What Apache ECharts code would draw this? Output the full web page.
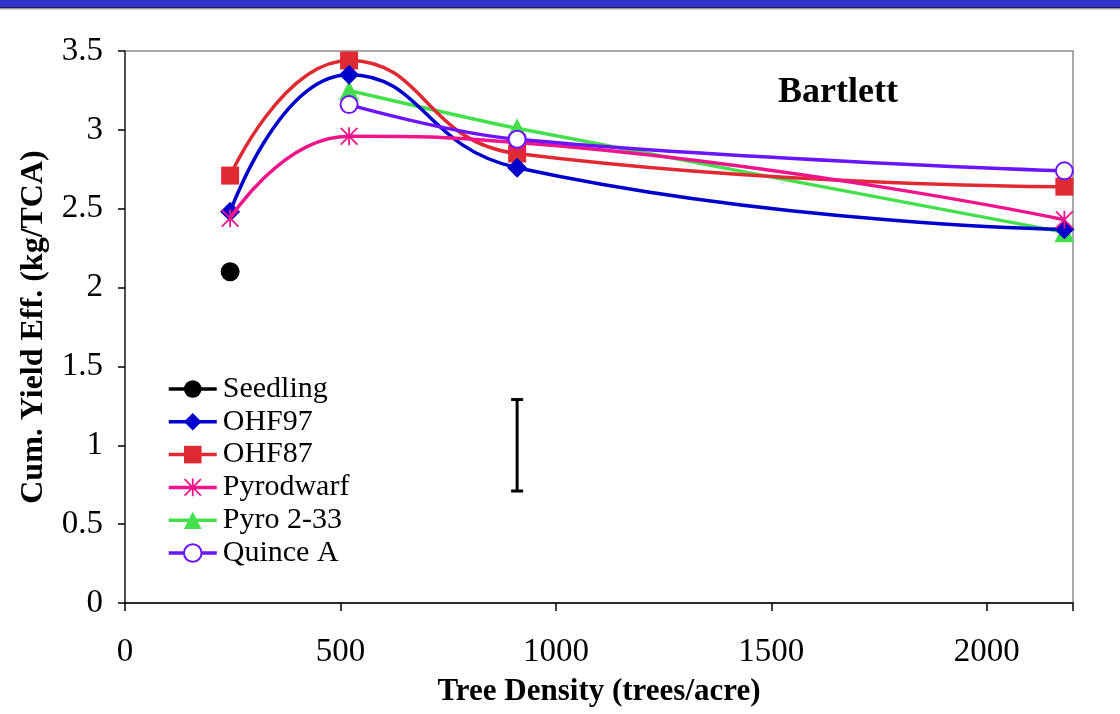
<!DOCTYPE html>
<html>
<head>
<meta charset="utf-8">
<script src="https://cdn.jsdelivr.net/npm/echarts@6/dist/echarts.min.js"></script>
<style>
html,body{margin:0;padding:0;background:#fff;}
#c{width:1120px;height:714px;}
</style>
</head>
<body>
<div id="c"></div>
<script>
var seedlingX = [244];
var seedlingY = [2.10];
var ohf97X = [244, 520, 910, 2180];
var ohf97Y = [2.48, 3.35, 2.76, 2.37];
var ohf87X = [244, 520, 910, 2180];
var ohf87Y = [2.71, 3.44, 2.85, 2.64];
var pyrodwarfX = [244, 520, 910, 2180];
var pyrodwarfY = [2.44, 2.96, 2.92, 2.43];
var pyro233X = [520, 910, 2180];
var pyro233Y = [3.25, 3.01, 2.35];
var quinceX = [520, 910, 2180];
var quinceY = [3.16, 2.94, 2.74];
var errX = [910];
var errLow = [0.71];
var errHigh = [1.29];
var xTicks = [0, 500, 1000, 1500, 2000];
var yTicks = [0, 0.5, 1, 1.5, 2, 2.5, 3, 3.5];

function pairs(xs, ys){ return xs.map(function(x,i){ return [x, ys[i]]; }); }

var FONT = '"Liberation Serif","Times New Roman",serif';
var starPath = 'path://M45,0 L55,0 L55,100 L45,100 Z M0,7 L7,0 L100,93 L93,100 Z M93,0 L100,7 L7,100 L0,93 Z';

var chart = echarts.init(document.getElementById('c'), null, {renderer:'canvas'});

function lineSeries(name, xs, ys, color, symbol, size, smooth, z){
  return {
    name: name, type: 'line', data: pairs(xs, ys),
    smooth: smooth,
    symbol: symbol, symbolSize: size,
    lineStyle: {color: color, width: 3.5},
    itemStyle: {color: color, borderWidth: 0},
    z: z
  };
}

var option = {
  animation: false,
  backgroundColor: '#fff',
  grid: {left: 125, top: 51, right: 47, bottom: 111, show: true, borderColor: '#8c8c8c', borderWidth: 1.5, backgroundColor: 'transparent'},
  xAxis: {
    type: 'value', min: 0, max: 2200, interval: 500,
    name: 'Tree Density (trees/acre)', nameLocation: 'middle', nameGap: 73,
    nameTextStyle: {fontFamily: FONT, fontSize: 31, fontWeight: 'bold', color: '#000'},
    axisLine: {show: true, lineStyle: {color: '#000', width: 1.5}},
    axisTick: {show: true, length: 8, lineStyle: {color: '#000', width: 1.5}},
    axisLabel: {fontFamily: FONT, fontSize: 33, color: '#000', margin: 33,
      formatter: function(v){ return xTicks.indexOf(v) >= 0 ? String(v) : ''; }},
    splitLine: {show: false}
  },
  yAxis: {
    type: 'value', min: 0, max: 3.5, interval: 0.5,
    name: 'Cum. Yield Eff. (kg/TCA)', nameLocation: 'middle', nameGap: 75,
    nameTextStyle: {fontFamily: FONT, fontSize: 32, fontWeight: 'bold', color: '#000'},
    axisLine: {show: true, lineStyle: {color: '#333', width: 1.5}},
    axisTick: {show: true, length: 7, lineStyle: {color: '#000', width: 1.5}},
    axisLabel: {fontFamily: FONT, fontSize: 33, color: '#000', margin: 22,
      formatter: function(v){ return yTicks.indexOf(v) >= 0 ? String(v) : ''; }},
    splitLine: {show: false}
  },
  legend: {
    orient: 'vertical', left: 162, top: 369,
    itemWidth: 48, itemHeight: 22, itemGap: 2.8,
    lineStyle: {width: 3.5},
    textStyle: {fontFamily: FONT, fontSize: 30, color: '#000', padding: [0,0,0,1]},
    data: ['Seedling', 'OHF97', 'OHF87', 'Pyrodwarf', 'Pyro 2-33', 'Quince A']
  },
  graphic: [
    {type: 'rect', shape: {x: 0, y: 0, width: 1120, height: 7}, style: {fill: '#3333cc'}, z: 100},
    {type: 'rect', shape: {x: 0, y: 7, width: 1120, height: 1}, style: {fill: '#1c1c55'}, z: 100},
    {type: 'rect', shape: {x: 0, y: 8, width: 1120, height: 1.5}, style: {fill: '#9a9a9a'}, z: 100},
    {type: 'text', left: 778, top: 75, style: {text: 'Bartlett', fontFamily: FONT, fontSize: 36, fontWeight: 'bold', fill: '#000'}, z: 100}
  ],
  series: [
    {
      name: 'Seedling', type: 'line', data: pairs(seedlingX, seedlingY),
      symbol: 'circle', symbolSize: 19,
      lineStyle: {color: '#000', width: 3.5}, itemStyle: {color: '#000'}, z: 3
    },
    lineSeries('OHF97', ohf97X, ohf97Y, '#0000cc', 'diamond', 20, 0.5, 4),
    lineSeries('OHF87', ohf87X, ohf87Y, '#e02a33', 'rect', 18, 0.5, 3),
    lineSeries('Pyrodwarf', pyrodwarfX, pyrodwarfY, '#f0148c', starPath, 18, 0.5, 5),
    lineSeries('Pyro 2-33', pyro233X, pyro233Y, '#44e04c', 'triangle', 20, 0.2, 2),
    {
      name: 'Quince A', type: 'line', data: pairs(quinceX, quinceY), smooth: 0.4,
      symbol: 'emptyCircle', symbolSize: 17,
      lineStyle: {color: '#6a14ff', width: 3.5},
      itemStyle: {color: '#6a14ff', borderWidth: 2}, z: 6
    },
    {
      name: 'LSD', type: 'custom', z: 7,
      data: errX.map(function(x,i){ return [x, errLow[i], errHigh[i]]; }),
      renderItem: function(params, api){
        var lo = api.coord([api.value(0), api.value(1)]);
        var hi = api.coord([api.value(0), api.value(2)]);
        var hw = 6;
        var st = {stroke: '#000', lineWidth: 3, fill: null};
        return {type: 'group', children: [
          {type: 'line', shape: {x1: lo[0], y1: lo[1], x2: hi[0], y2: hi[1]}, style: st},
          {type: 'line', shape: {x1: lo[0]-hw, y1: lo[1], x2: lo[0]+hw, y2: lo[1]}, style: st},
          {type: 'line', shape: {x1: hi[0]-hw, y1: hi[1], x2: hi[0]+hw, y2: hi[1]}, style: st}
        ]};
      }
    }
  ]
};
chart.setOption(option);
</script>
</body>
</html>
